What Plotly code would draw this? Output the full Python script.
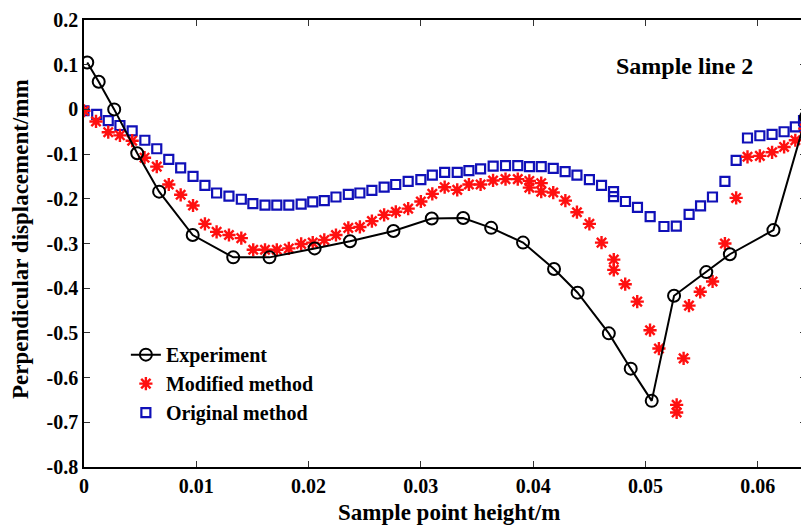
import plotly.graph_objects as go

# ---------------- data ----------------
exp_x = [0.00029, 0.00131, 0.00269, 0.00474, 0.00669, 0.00968, 0.01329, 0.01652,
         0.02054, 0.02369, 0.02756, 0.03097, 0.03377, 0.03626, 0.03910, 0.04186,
         0.04396, 0.04674, 0.04869, 0.05056, 0.05255, 0.05542, 0.05752, 0.06140,
         0.06430]
exp_y = [0.105, 0.062, 0.000, -0.098, -0.184, -0.281, -0.331, -0.331,
         -0.311, -0.295, -0.272, -0.244, -0.243, -0.265, -0.298, -0.357,
         -0.410, -0.501, -0.580, -0.652, -0.417, -0.364, -0.324, -0.270,
         -0.017]

mod_x = [0.00000, 0.00107, 0.00216, 0.00320, 0.00429, 0.00539, 0.00648, 0.00755,
         0.00861, 0.00971, 0.01077, 0.01181, 0.01291, 0.01401, 0.01507, 0.01612,
         0.01717, 0.01824, 0.01934, 0.02037, 0.02140, 0.02244, 0.02354, 0.02457,
         0.02564, 0.02673, 0.02777, 0.02887, 0.03000, 0.03102, 0.03212, 0.03324,
         0.03428, 0.03532, 0.03643, 0.03754, 0.03863, 0.03966, 0.03966, 0.04072,
         0.04072, 0.04179, 0.04287, 0.04390, 0.04501, 0.04609, 0.04718, 0.04718,
         0.04820, 0.04927, 0.05041, 0.05120, 0.05278, 0.05278, 0.05340, 0.05388,
         0.05488, 0.05598, 0.05708, 0.05808, 0.05909, 0.06019, 0.06128, 0.06235,
         0.06335, 0.06419]
mod_y = [-0.003, -0.027, -0.051, -0.058, -0.070, -0.108, -0.128, -0.168,
         -0.191, -0.215, -0.256, -0.274, -0.281, -0.288, -0.314, -0.314,
         -0.314, -0.311, -0.301, -0.298, -0.292, -0.281, -0.265, -0.263,
         -0.250, -0.236, -0.229, -0.222, -0.206, -0.189, -0.174, -0.180,
         -0.168, -0.168, -0.159, -0.156, -0.156, -0.160, -0.175, -0.165,
         -0.184, -0.186, -0.204, -0.230, -0.256, -0.298, -0.336, -0.359,
         -0.391, -0.430, -0.494, -0.535, -0.661, -0.678, -0.557, -0.439,
         -0.408, -0.385, -0.300, -0.198, -0.106, -0.104, -0.096, -0.084,
         -0.069, -0.043]

orig_x = [0.00000, 0.00113, 0.00216, 0.00320, 0.00429, 0.00542, 0.00648, 0.00755,
          0.00861, 0.00971, 0.01077, 0.01181, 0.01291, 0.01401, 0.01504, 0.01612,
          0.01717, 0.01824, 0.01934, 0.02037, 0.02140, 0.02244, 0.02354, 0.02457,
          0.02564, 0.02673, 0.02776, 0.02887, 0.03000, 0.03102, 0.03212, 0.03324,
          0.03428, 0.03532, 0.03644, 0.03754, 0.03863, 0.03967, 0.04072, 0.04179,
          0.04285, 0.04390, 0.04501, 0.04609, 0.04716, 0.04716, 0.04822, 0.04929,
          0.05042, 0.05165, 0.05275, 0.05389, 0.05491, 0.05597, 0.05708, 0.05808,
          0.05909, 0.06019, 0.06128, 0.06235, 0.06335, 0.06408]
orig_y = [-0.003, -0.011, -0.025, -0.036, -0.048, -0.069, -0.088, -0.112,
          -0.131, -0.150, -0.170, -0.187, -0.194, -0.201, -0.211, -0.214,
          -0.214, -0.214, -0.212, -0.207, -0.204, -0.196, -0.190, -0.187,
          -0.181, -0.174, -0.168, -0.161, -0.157, -0.147, -0.141, -0.141,
          -0.137, -0.133, -0.127, -0.126, -0.126, -0.128, -0.128, -0.132,
          -0.139, -0.147, -0.157, -0.170, -0.184, -0.195, -0.206, -0.219,
          -0.240, -0.262, -0.261, -0.235, -0.216, -0.196, -0.161, -0.114,
          -0.064, -0.059, -0.056, -0.050, -0.039, -0.025]

x_tick_vals = [0, 0.01, 0.02, 0.03, 0.04, 0.05, 0.06]
x_tick_text = ["0", "0.01", "0.02", "0.03", "0.04", "0.05", "0.06"]
y_tick_vals = [0.2, 0.1, 0, -0.1, -0.2, -0.3, -0.4, -0.5, -0.6, -0.7, -0.8]
y_tick_text = ["0.2", "0.1", "0", "-0.1", "-0.2", "-0.3", "-0.4", "-0.5", "-0.6", "-0.7", "-0.8"]

FONT = "Liberation Serif"

fig = go.Figure()
fig.add_trace(go.Scatter(
    x=orig_x, y=orig_y, mode="markers", name="<b>Original method</b>", legendrank=3,
    marker=dict(symbol="square-open", size=9, color="#1010b8", line=dict(width=2.2, color="#1010b8"))))
fig.add_trace(go.Scatter(
    x=mod_x, y=mod_y, mode="markers", name="<b>Modified method</b>", legendrank=2,
    marker=dict(symbol="asterisk-open", size=11, color="#ff1010", line=dict(width=2.4, color="#ff1010"))))
fig.add_trace(go.Scatter(
    x=exp_x, y=exp_y, mode="lines+markers", name="<b>Experiment</b>", legendrank=1,
    line=dict(color="black", width=2),
    marker=dict(symbol="circle-open", size=12, color="black", line=dict(width=2, color="black"))))

axis_common = dict(showline=True, linecolor="black", linewidth=1.5, mirror="ticks",
                   ticks="inside", ticklen=6, tickwidth=1.3, tickcolor="#333",
                   showgrid=False, zeroline=False, ticklabeloverflow="allow",
                   tickfont=dict(family=FONT, size=20, color="black"))

# page has an 8px body margin, so the figure is sized to fit inside the window
fig.update_layout(
    width=801, height=519,
    margin=dict(l=76, r=1, t=8, b=60),
    paper_bgcolor="white", plot_bgcolor="white",
    font=dict(family=FONT, color="black"),
    showlegend=True,
    legend=dict(x=0.058, y=0.295, xanchor="left", yanchor="top",
                bgcolor="rgba(0,0,0,0)", font=dict(family=FONT, size=20, color="black"),
                tracegroupgap=0, itemwidth=30),
    xaxis=dict(range=[0, 0.0643], tickvals=x_tick_vals, ticktext=[f"<b>{t}</b>" for t in x_tick_text],
               **axis_common),
    yaxis=dict(range=[-0.8, 0.2], tickvals=y_tick_vals, ticktext=[f"<b>{t}</b>" for t in y_tick_text],
               **axis_common),
    annotations=[
        dict(text="<b>Sample line 2</b>", xref="paper", yref="paper", x=0.93, y=0.898,
             xanchor="right", yanchor="middle", showarrow=False,
             font=dict(family=FONT, size=24, color="black")),
        dict(text="<b>Sample point height/m</b>", xref="paper", yref="paper", x=0.505, y=0,
             yshift=-45, xanchor="center", yanchor="middle", showarrow=False,
             font=dict(family=FONT, size=23, color="black")),
        dict(text="<b>Perpendicular displacement/mm</b>", xref="paper", yref="paper", x=0, y=0.51,
             xshift=-64, xanchor="center", yanchor="middle", textangle=-90, showarrow=False,
             font=dict(family=FONT, size=23, color="black")),
    ],
)

fig.write_html("out.html")
